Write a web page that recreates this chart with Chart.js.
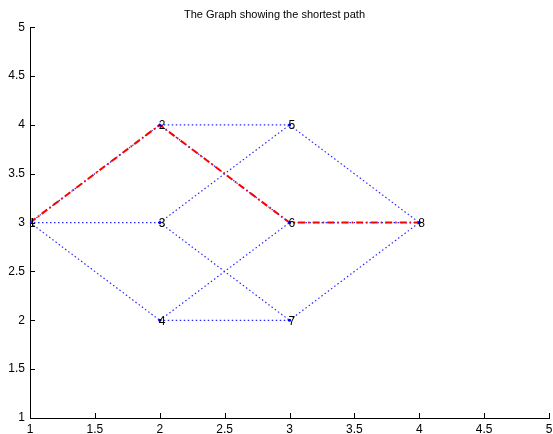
<!DOCTYPE html>
<html><head><meta charset="utf-8">
<script src="https://cdn.jsdelivr.net/npm/chart.js@4/dist/chart.umd.min.js"></script>
<style>html,body{margin:0;padding:0;background:#fff}#w{width:553px;height:434px}</style>
</head><body><div id="w"><canvas id="c" width="553" height="434"></canvas></div>
<script>
const titleText = "The Graph showing the shortest path";
const nodeLabels = ["1","2","3","4","5","6","7","8"];
const nodeX = [1, 2, 2, 2, 3, 3, 3, 4];
const nodeY = [3, 4, 3, 2, 4, 3, 2, 3];
const edges = [[1,2],[1,3],[1,4],[2,5],[2,6],[3,5],[3,7],[4,6],[4,7],[5,8],[6,8],[7,8]];
const shortestPath = [1,2,6,8];
const xTicks = [1,1.5,2,2.5,3,3.5,4,4.5,5];
const yTicks = [1,1.5,2,2.5,3,3.5,4,4.5,5];

const pt = i => ({x: nodeX[i-1], y: nodeY[i-1]});
const datasets = [];
edges.forEach(e => datasets.push({
  data: [pt(e[0]), pt(e[1])], showLine: true, borderColor: '#2a2aff', order: 3,
  borderWidth: 1.2, borderDash: [1.5,2.5], pointRadius: 0, fill: false
}));
datasets.push({
  data: shortestPath.map(pt), showLine: true, borderColor: '#ff0000', order: 2,
  borderWidth: 2, borderDash: [7,3,1.5,3], pointRadius: 0, fill: false
});
datasets.push({
  data: nodeLabels.map((_, i) => pt(i+1)), showLine: false, order: 1,
  pointRadius: 1.5, pointBackgroundColor: '#0000ff', pointBorderWidth: 0
});

const tickPlugin = {
  id: 'inwardTicks',
  afterDatasetsDraw(chart) {
    const ctx = chart.ctx, xs = chart.scales.x, ys = chart.scales.y, a = chart.chartArea;
    ctx.save();
    ctx.strokeStyle = '#000'; ctx.lineWidth = 1;
    ctx.beginPath();
    xTicks.forEach(v => { const px = Math.round(xs.getPixelForValue(v)) + 0.5; ctx.moveTo(px, a.bottom); ctx.lineTo(px, a.bottom - 5); });
    yTicks.forEach(v => { const py = Math.round(ys.getPixelForValue(v)) + 0.5; ctx.moveTo(a.left, py); ctx.lineTo(a.left + 5, py); });
    ctx.stroke();
    ctx.fillStyle = '#000';
    ctx.font = '12px "Liberation Sans", Arial, sans-serif';
    ctx.textAlign = 'left'; ctx.textBaseline = 'middle';
    nodeLabels.forEach((t, i) => {
      ctx.fillText(t, xs.getPixelForValue(nodeX[i]) - 1, ys.getPixelForValue(nodeY[i]) + 1);
    });
    ctx.restore();
  }
};

const fmt = v => String(v);

new Chart(document.getElementById('c'), {
  type: 'scatter',
  data: { datasets },
  options: {
    responsive: false, animation: false, devicePixelRatio: 1,
    layout: { padding: { left: 0, right: 4, top: 0, bottom: 0 } },
    plugins: {
      legend: { display: false }, tooltip: { enabled: false },
      title: { display: true, text: titleText, color: '#000',
        font: { family: '"Liberation Sans", Arial, sans-serif', size: 11, weight: 'normal' },
        padding: { top: 8, bottom: 6 } }
    },
    scales: {
      x: { type: 'linear', min: 1, max: 5,
        afterFit(s) { s.height = 16; s.paddingLeft = 0; s.paddingRight = 0; },
        afterBuildTicks(s) { s.ticks = xTicks.map(v => ({value: v})); },
        grid: { display: false, drawTicks: false },
        border: { display: true, color: '#000', width: 1 },
        ticks: { padding: 4, color: '#000', maxRotation: 0, autoSkip: false, callback: fmt,
          font: { family: '"Liberation Sans", Arial, sans-serif', size: 12 } } },
      y: { type: 'linear', min: 1, max: 5,
        afterFit(s) { s.width = 30; s.paddingTop = 0; s.paddingBottom = 0; },
        afterBuildTicks(s) { s.ticks = yTicks.map(v => ({value: v})); },
        grid: { display: false, drawTicks: false },
        border: { display: true, color: '#000', width: 1 },
        ticks: { padding: 5, color: '#000', autoSkip: false, callback: fmt,
          font: { family: '"Liberation Sans", Arial, sans-serif', size: 12 } } }
    }
  },
  plugins: [tickPlugin]
});
</script></body></html>
